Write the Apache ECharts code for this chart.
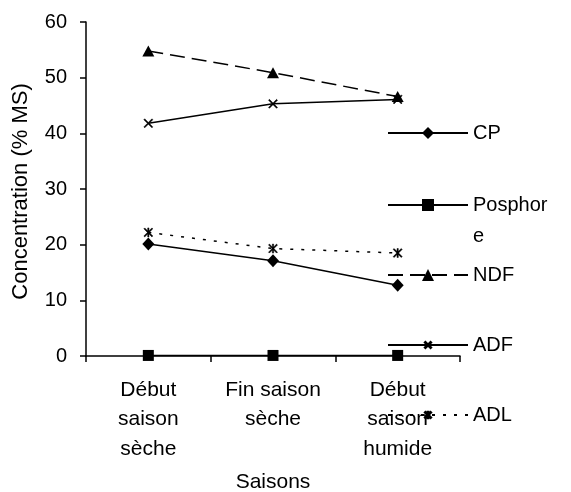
<!DOCTYPE html>
<html><head><meta charset="utf-8">
<script src="https://cdn.jsdelivr.net/npm/echarts@6/dist/echarts.min.js"></script>
<style>html,body{margin:0;padding:0;background:#fff}#c{width:571px;height:492px}</style>
</head><body><div id="c"></div>
<script>
const categories = ['Début\nsaison\nsèche', 'Fin saison\nsèche', 'Début\nsaison\nhumide'];
const cp = [20.1, 17.1, 12.7];
const posphore = [0.1, 0.1, 0.1];
const ndf = [54.8, 50.9, 46.6];
const adf = [41.8, 45.3, 46.1];
const adl = [22.2, 19.3, 18.5];
const yTicks = {min: 0, max: 60, interval: 10};

const FONT = 'Liberation Sans';
const FS = 21;
const crossPath = 'path://M0,1L1,0L5,4L9,0L10,1L6,5L10,9L9,10L5,6L1,10L0,9L4,5Z';
const starPath = 'path://M0,1L1,0L5,4L9,0L10,1L6,5L10,9L9,10L5,6L1,10L0,9L4,5Z M4.3,0L5.7,0L5.7,10L4.3,10Z';

function mk(name, data, symbol, size, ltype) {
  return {
    name, type: 'line', data, symbol, symbolSize: size,
    lineStyle: {color: '#000', width: 1.5, type: ltype},
    itemStyle: {color: '#000', borderColor: '#000', borderWidth: symbol.startsWith('path') ? 0.5 : 0},
    emphasis: {disabled: true}, animation: false
  };
}
const series = [
  mk('CP', cp, 'diamond', [12, 13], 'solid'),
  mk('Posphore', posphore, 'rect', 11, 'solid'),
  mk('NDF', ndf, 'triangle', [12, 11], [15, 7]),
  mk('ADF', adf, crossPath, 9, 'solid'),
  mk('ADL', adl, starPath, 9, [3, 8]),
];
const legendY = [133, 205, 275, 345, 415];
const names = ['CP', 'Posphore', 'NDF', 'ADF', 'ADL'];
const legendIconH = [15, 15, 15, 8, 8];
const legends = names.map((n, i) => {
  const isP = n === 'Posphore';
  const lh = isP ? 31 : 22;
  const h = isP ? 3 * lh : lh;
  return {
    data: [n], left: 387, top: legendY[i] - h / 2, orient: 'vertical', padding: 0,
    itemWidth: 80, itemHeight: legendIconH[i], itemGap: 0, selectedMode: false,
    formatter: nm => nm === 'Posphore' ? '\nPosphor\ne' : nm,
    textStyle: {color: '#000', fontFamily: FONT, fontSize: 20, lineHeight: lh}
  };
});

const chart = echarts.init(document.getElementById('c'), null, {renderer: 'canvas'});
chart.setOption({
  animation: false,
  backgroundColor: '#fff',
  grid: {left: 86, right: 111, top: 22, bottom: 136, containLabel: false, outerBoundsMode: 'none'},
  legend: legends,
  xAxis: {
    type: 'category', data: categories, boundaryGap: true,
    name: 'Saisons', nameLocation: 'middle', nameGap: 116,
    nameTextStyle: {color: '#000', fontFamily: FONT, fontSize: FS},
    axisLine: {lineStyle: {color: '#000', width: 1.5}},
    axisTick: {show: true, length: 6, lineStyle: {color: '#000', width: 1.5}},
    axisLabel: {color: '#000', fontFamily: FONT, fontSize: FS, lineHeight: 29.5, margin: 19, interval: 0}
  },
  yAxis: {
    type: 'value', min: yTicks.min, max: yTicks.max, interval: yTicks.interval,
    name: 'Concentration (% MS)', nameLocation: 'middle', nameGap: 54, nameRotate: 90,
    nameTextStyle: {color: '#000', fontFamily: FONT, fontSize: 22, padding: [0, 5, 0, 0]},
    axisLine: {show: true, lineStyle: {color: '#000', width: 1.5}},
    axisTick: {show: true, length: 6, lineStyle: {color: '#000', width: 1.5}},
    axisLabel: {color: '#000', fontFamily: FONT, fontSize: 20, margin: 19},
    splitLine: {show: false}
  },
  series
});
</script></body></html>
